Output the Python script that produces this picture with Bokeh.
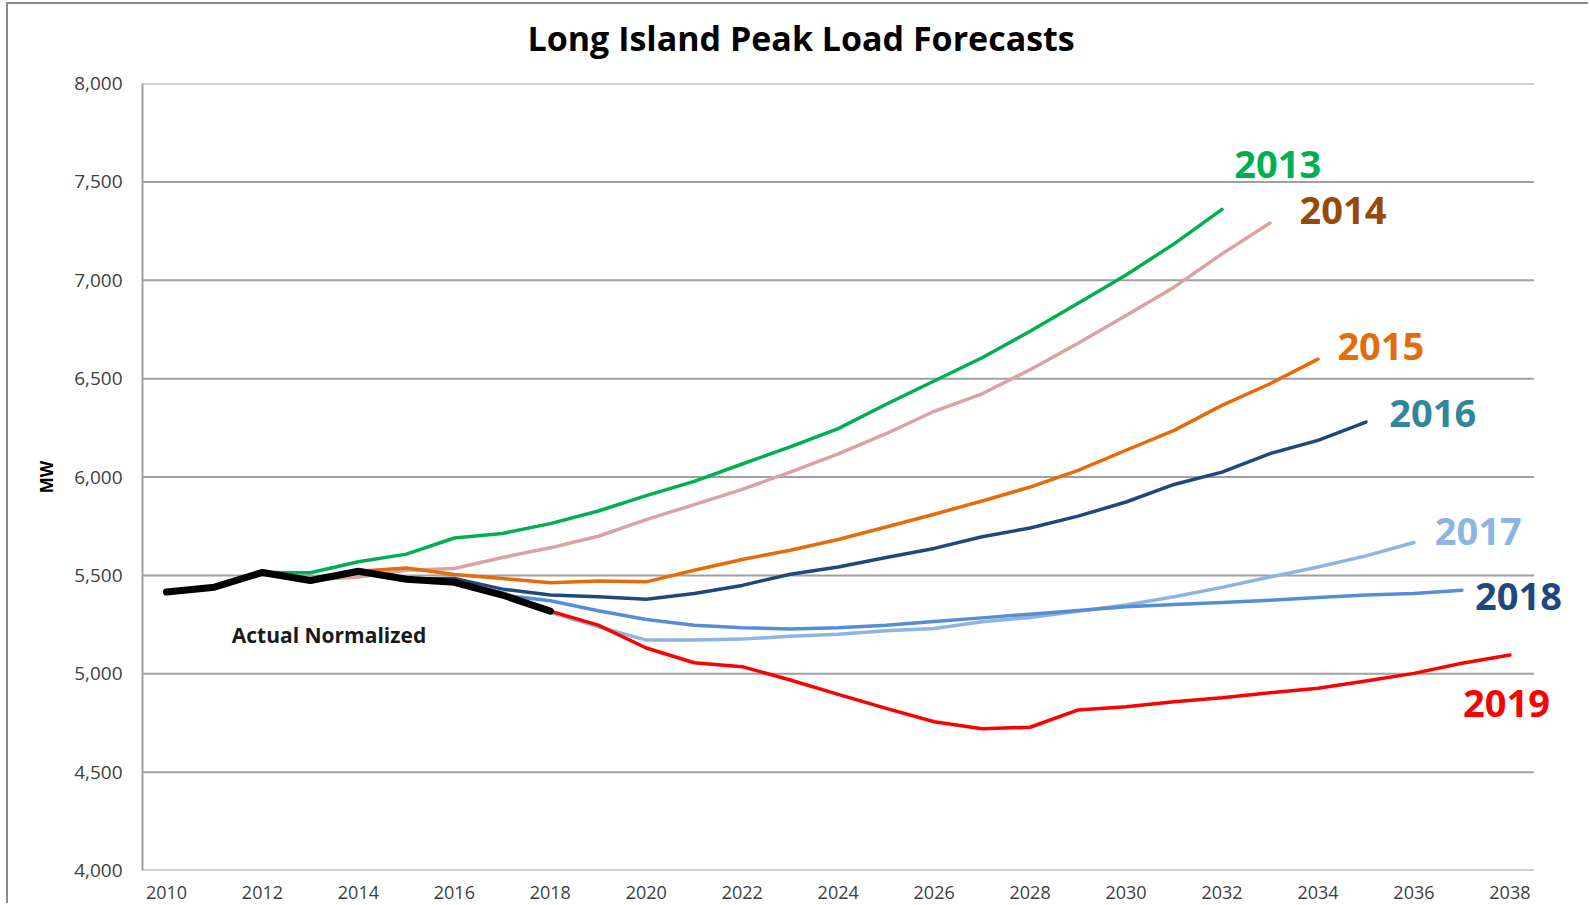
from bokeh.plotting import figure
from bokeh.models import FixedTicker, NumeralTickFormatter, Label, Range1d, Title
from bokeh.embed import file_html
from bokeh.resources import INLINE

# ---------------- data ----------------
title_text = "Long Island Peak Load Forecasts"
y_label = "MW"
x_ticks = [2010, 2012, 2014, 2016, 2018, 2020, 2022, 2024, 2026, 2028,
           2030, 2032, 2034, 2036, 2038]
y_ticks = [4000, 4500, 5000, 5500, 6000, 6500, 7000, 7500, 8000]

actual_years = list(range(2010, 2019))
actual_mw = [5415, 5440, 5515, 5474, 5521, 5480, 5465, 5400, 5318]

f2013_years = list(range(2012, 2033))
f2013_mw = [5515, 5513, 5569, 5608, 5690, 5713, 5763, 5827, 5905, 5978, 6066,
            6153, 6246, 6370, 6488, 6606, 6741, 6883, 7027, 7185, 7360]

f2014_years = list(range(2013, 2034))
f2014_mw = [5477, 5492, 5526, 5535, 5591, 5640, 5699, 5783, 5860, 5937, 6025,
            6117, 6220, 6334, 6423, 6545, 6680, 6821, 6965, 7134, 7291]

f2015_years = list(range(2014, 2035))
f2015_mw = [5521, 5538, 5505, 5484, 5462, 5471, 5467, 5526, 5581, 5628, 5682,
            5746, 5811, 5878, 5949, 6034, 6136, 6237, 6364, 6474, 6599]

f2016_years = list(range(2015, 2036))
f2016_mw = [5482, 5484, 5430, 5400, 5391, 5379, 5408, 5449, 5506, 5543, 5591,
            5637, 5696, 5741, 5801, 5873, 5962, 6025, 6119, 6186, 6279]

f2017_years = list(range(2016, 2037))
f2017_mw = [5465, 5415, 5312, 5239, 5171, 5171, 5176, 5191, 5201, 5218, 5230,
            5264, 5286, 5318, 5349, 5391, 5439, 5492, 5543, 5599, 5667]

f2018_years = list(range(2017, 2038))
f2018_mw = [5400, 5371, 5320, 5276, 5247, 5234, 5228, 5234, 5247, 5266, 5284,
            5303, 5322, 5340, 5352, 5362, 5374, 5388, 5400, 5408, 5425]

f2019_years = list(range(2018, 2039))
f2019_mw = [5318, 5247, 5131, 5056, 5036, 4968, 4895, 4824, 4756, 4721, 4728,
            4816, 4832, 4858, 4878, 4904, 4926, 4963, 5002, 5053, 5095]

series_names = ["2013", "2014", "2015", "2016", "2017", "2018", "2019"]
actual_name = "Actual Normalized"

# ---------------- styles ----------------
FONT = "Open Sans"
GRID = "#a0a0a0"
TICK_COLOR = "#404040"
X_START, X_END = 2009.5, 2038.5        # category band edges of the axis
X_VIEW_END = 2039.68                   # room on the right for the labels

line_colors = {"2013": "#00b050", "2014": "#d9a3a1", "2015": "#e46c0a",
               "2016": "#1f497d", "2017": "#8db4e2", "2018": "#558ed5",
               "2019": "#ff0000"}
label_colors = {"2013": "#00b050", "2014": "#984807", "2015": "#e46c0a",
                "2016": "#31859c", "2017": "#8db4e2", "2018": "#1f497d",
                "2019": "#ff0000"}
label_pos = {"2013": (2033.16, 7587), "2014": (2034.52, 7354),
             "2015": (2035.31, 6663), "2016": (2036.39, 6323),
             "2017": (2037.34, 5721), "2018": (2038.18, 5391),
             "2019": (2037.93, 4851)}

p = figure(width=1582, height=901, output_backend="svg", toolbar_location=None,
           x_range=Range1d(X_START, X_VIEW_END), y_range=Range1d(4000, 8000),
           min_border_left=134, min_border_right=0, min_border_top=79,
           min_border_bottom=35,
           background_fill_color="white", border_fill_color="white",
           styles={"margin-top": "4px", "margin-left": "8px",
                   "box-shadow": "-2px -2px 0px 0px #8c8c8c"})
p.outline_line_color = None

# spacer panel between the title and the plot area
p.add_layout(Title(text=" ", text_font_size="10px", standoff=10), "above")

# title
p.title.text = title_text
p.title.text_font = FONT
p.title.text_font_size = "34px"
p.title.text_font_style = "bold"
p.title.text_color = "#000000"
p.title.align = "left"
p.title.offset = 385
p.title.standoff = 0

# axes
p.xaxis.ticker = FixedTicker(ticks=x_ticks)
p.yaxis.ticker = FixedTicker(ticks=y_ticks)
p.yaxis.formatter = NumeralTickFormatter(format="0,0")
for ax in (p.xaxis[0], p.yaxis[0]):
    ax.major_tick_line_color = None
    ax.minor_tick_line_color = None
    ax.major_label_text_font = FONT
    ax.major_label_text_color = TICK_COLOR
p.xaxis.axis_line_color = None
p.yaxis.axis_line_color = GRID
p.yaxis.axis_line_width = 2
p.xaxis.major_label_text_font_size = "18px"
p.yaxis.major_label_text_font_size = "19px"
p.xaxis.major_label_standoff = 9
p.yaxis.major_label_standoff = 14
p.yaxis.axis_label = y_label
p.yaxis.axis_label_text_font = FONT
p.yaxis.axis_label_text_font_size = "17px"
p.yaxis.axis_label_text_font_style = "bold"
p.yaxis.axis_label_text_color = "#000000"
p.yaxis.axis_label_standoff = 13

p.xgrid.grid_line_color = None
p.ygrid.grid_line_color = None

# horizontal gridlines (only across the category bands, as in Excel)
p.segment(x0=[X_START] * len(y_ticks), x1=[X_END] * len(y_ticks),
          y0=y_ticks, y1=y_ticks, line_color=GRID, line_width=2)

# lines
forecasts = [
    ("2013", f2013_years, f2013_mw),
    ("2014", f2014_years, f2014_mw),
    ("2015", f2015_years, f2015_mw),
    ("2016", f2016_years, f2016_mw),
    ("2017", f2017_years, f2017_mw),
    ("2018", f2018_years, f2018_mw),
    ("2019", f2019_years, f2019_mw),
]
for name, xs, ys in forecasts:
    p.line(xs, ys, line_color=line_colors[name], line_width=3.5,
           line_join="round", line_cap="round")

p.line(actual_years, actual_mw, line_color="#000000", line_width=7,
       line_join="round", line_cap="round")

# labels
for name in series_names:
    lx, ly = label_pos[name]
    p.add_layout(Label(x=lx, y=ly, text=name, text_font=FONT,
                       text_font_size="38px", text_font_style="bold",
                       text_color=label_colors[name], text_align="center",
                       text_baseline="middle"))

p.add_layout(Label(x=2011.36, y=5196, text=actual_name, text_font=FONT,
                   text_font_size="21px", text_font_style="bold",
                   text_color="#1a1a1a", text_align="left",
                   text_baseline="middle"))

open("out.html", "w").write(file_html(p, INLINE))
